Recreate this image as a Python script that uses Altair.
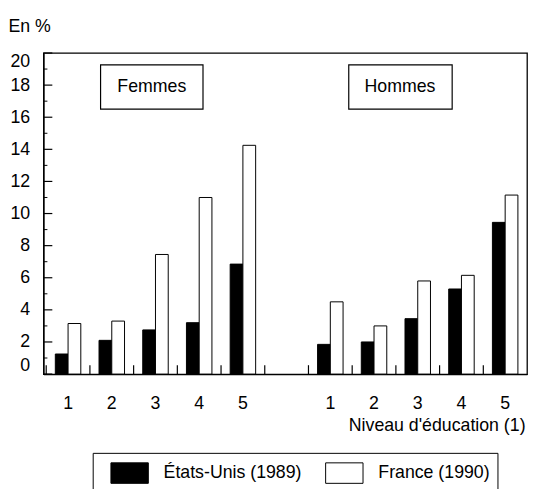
import altair as alt
import pandas as pd

# ---- data ----
levels = ["1", "2", "3", "4", "5"]
series = ["États-Unis (1989)", "France (1990)"]
femmes_us = [1.25, 2.1, 2.75, 3.2, 6.85]
femmes_fr = [3.15, 3.3, 7.45, 11.0, 14.25]
hommes_us = [1.85, 2.0, 3.45, 5.3, 9.45]
hommes_fr = [4.5, 3.0, 5.8, 6.15, 11.15]
slots = ["F1", "F2", "F3", "F4", "F5", "gap", "H1", "H2", "H3", "H4", "H5"]
y_major = [0, 2, 4, 6, 8, 10, 12, 14, 16, 18, 20]
y_minor = [1, 3, 5, 7, 9, 11, 13, 15, 17, 19]

rows = []
for prefix, us, fr in (("F", femmes_us, femmes_fr), ("H", hommes_us, hommes_fr)):
    for lv, a, b in zip(levels, us, fr):
        rows.append({"slot": prefix + lv, "series": series[0], "value": a})
        rows.append({"slot": prefix + lv, "series": series[1], "value": b})
df = pd.DataFrame(rows)
slot_df = pd.DataFrame({"slot": slots})
major_df = pd.DataFrame({"v": y_major})
minor_df = pd.DataFrame({"v": y_minor})

W, H = 491, 326
FONT = "Liberation Sans"
FS = 18

x_scale = alt.Scale(domain=slots, paddingInner=0, paddingOuter=0.0315, align=1)
y_scale = alt.Scale(domain=[0, 20], nice=False)

x_axis = alt.Axis(labelExpr="datum.value == 'gap' ? '' : substring(datum.value, 1)",
                  labelAngle=0, ticks=False, tickSize=0, labelPadding=21,
                  domainColor="black", domainWidth=1.3,
                  title="Niveau d'éducation (1)", titleX=W - 2, titleY=57,
                  titleAlign="right", titleBaseline="alphabetic")
y_axis = alt.Axis(values=y_major, labelFlush=True, labelOverlap=False,
                  ticks=False, tickSize=0,
                  labelPadding=14, grid=False, domainColor="black", domainWidth=1.3,
                  title="En %", titleAngle=0, titleX=-36, titleY=-22,
                  titleAlign="left", titleBaseline="alphabetic")

bars = alt.Chart(df).mark_bar(stroke="black", strokeWidth=1).encode(
    x=alt.X("slot:N", scale=x_scale, sort=slots, axis=x_axis),
    xOffset=alt.XOffset("series:N", sort=series,
                        scale=alt.Scale(domain=series, paddingInner=0, paddingOuter=0.715)),
    y=alt.Y("value:Q", scale=y_scale, axis=y_axis),
    fill=alt.Fill("series:N", sort=series,
                  scale=alt.Scale(domain=series, range=["black", "white"]),
                  legend=alt.Legend(title=None, orient="none", legendX=50, legendY=406,
                                    direction="horizontal",
                                    symbolType="M-1.46,-0.8H1.46V0.8H-1.46Z", symbolSize=676,
                                    symbolOffset=17,
                                    symbolStrokeColor="black", symbolStrokeWidth=1,
                                    labelFontSize=FS, labelFont=FONT, labelColor="black",
                                    labelOffset=21, columnPadding=12, padding=7,
                                    strokeColor="black", fillColor="white")),
)

xticks = alt.Chart(slot_df).mark_rule(color="black", strokeWidth=1.2).encode(
    x=alt.X("slot:N", scale=x_scale, sort=slots, bandPosition=0, axis=x_axis),
    y=alt.value(H), y2=alt.value(H - 9),
)
ymajor = alt.Chart(major_df).mark_rule(color="black", strokeWidth=1.2).encode(
    y=alt.Y("v:Q", scale=y_scale, axis=y_axis), x=alt.value(0), x2=alt.value(9),
)
yminor = alt.Chart(minor_df).mark_rule(color="black", strokeWidth=1).encode(
    y=alt.Y("v:Q", scale=y_scale, axis=y_axis), x=alt.value(0), x2=alt.value(4),
)

one = alt.Data(values=[{}])
box_f = alt.Chart(one).mark_rect(fill="white", stroke="black", strokeWidth=1.2).encode(
    x=alt.value(58), x2=alt.value(162), y=alt.value(12), y2=alt.value(57))
txt_f = alt.Chart(one).mark_text(font=FONT, fontSize=FS, color="black", baseline="middle", align="center").encode(
    x=alt.value(110), y=alt.value(35), text=alt.value("Femmes"))
box_h = alt.Chart(one).mark_rect(fill="white", stroke="black", strokeWidth=1.2).encode(
    x=alt.value(310), x2=alt.value(415), y=alt.value(12), y2=alt.value(57))
txt_h = alt.Chart(one).mark_text(font=FONT, fontSize=FS, color="black", baseline="middle", align="center").encode(
    x=alt.value(362), y=alt.value(35), text=alt.value("Hommes"))

chart = alt.layer(bars, xticks, ymajor, yminor, box_f, txt_f, box_h, txt_h).properties(
    width=W, height=H,
    autosize=alt.AutoSizeParams(type="none"),
    padding={"left": 36, "top": 42, "right": 1, "bottom": 113},
).configure(font=FONT).configure_view(
    stroke="black", strokeWidth=1.3
).configure_axis(
    labelFont=FONT, labelFontSize=FS, labelColor="black",
    titleFont=FONT, titleFontSize=FS, titleFontWeight="normal", titleColor="black",
)

chart.save("out.html", embed_options={"renderer": "svg", "actions": False})
